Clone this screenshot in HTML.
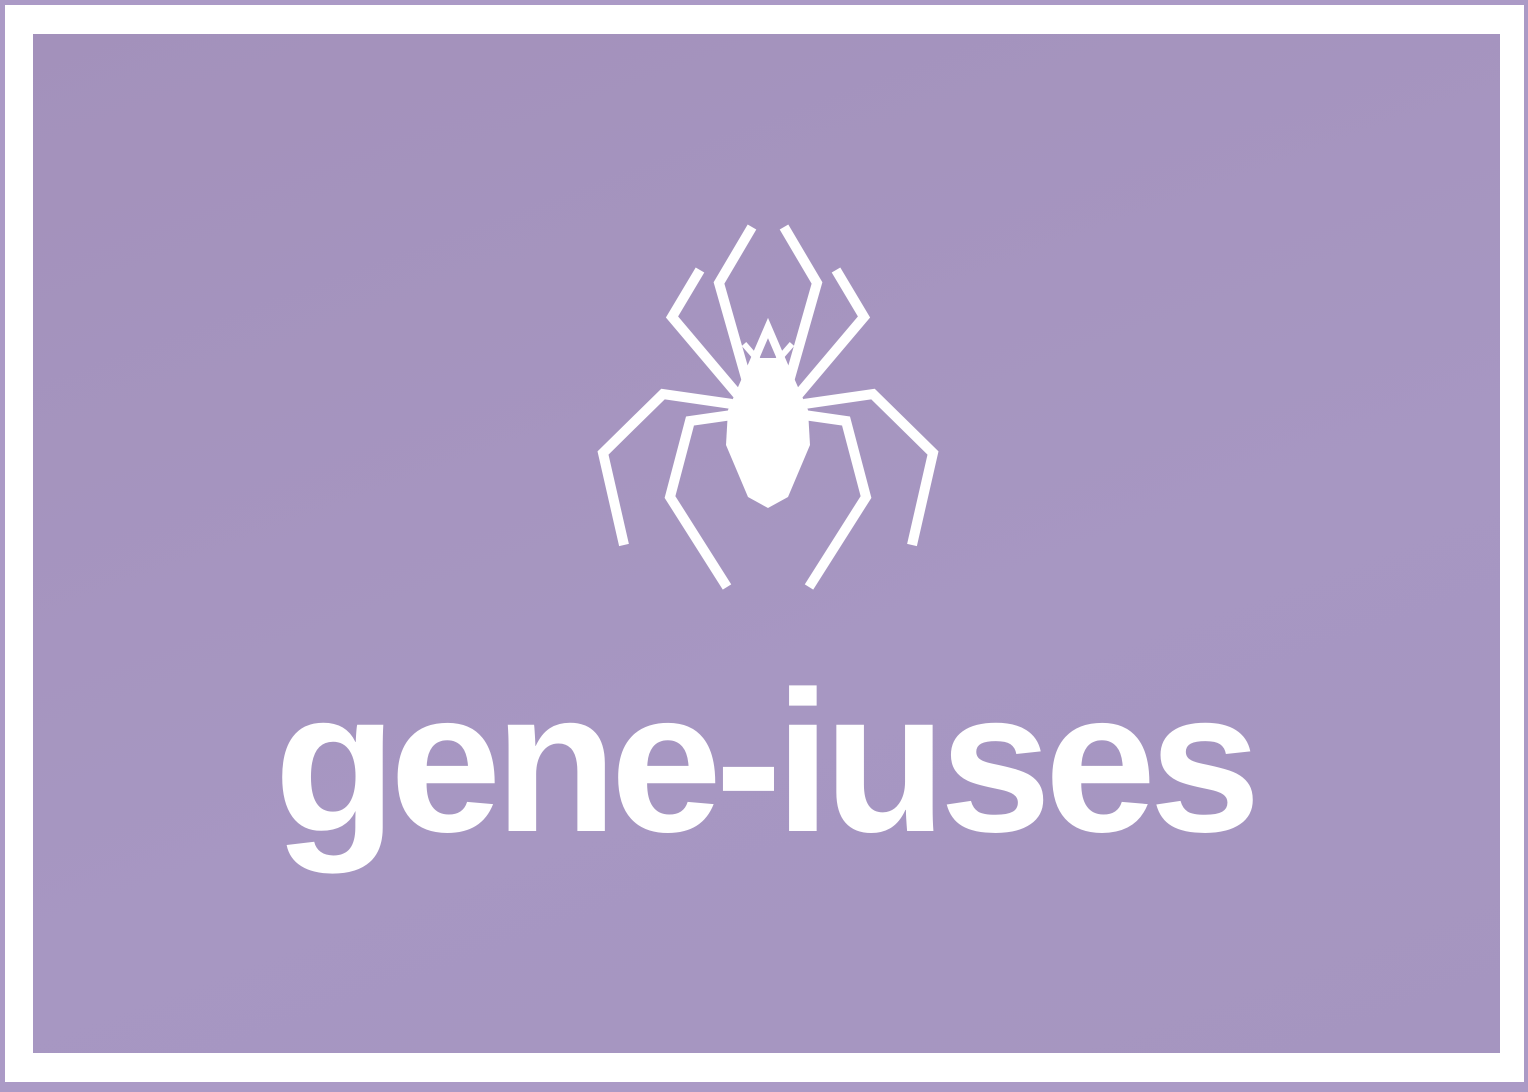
<!DOCTYPE html>
<html><head><meta charset="utf-8"><style>
html,body{margin:0;padding:0;}
body{width:1528px;height:1092px;background:#ab9ac6;position:relative;overflow:hidden;font-family:"Liberation Sans",Arial,sans-serif;}
#white{position:absolute;left:5px;top:5px;width:1519px;height:1077px;background:#fff;}
#panel{position:absolute;left:33px;top:34px;width:1467px;height:1019px;background:linear-gradient(160deg,#a391bb,#a797c2 60%,#a595c0);}
#word{position:absolute;left:0;width:1528px;top:642px;text-align:center;color:#fff;font-weight:bold;font-size:201px;letter-spacing:-7px;line-height:240px;}
</style></head><body>
<div id="white"></div>
<div id="panel"></div>
<svg width="1528" height="1092" style="position:absolute;left:0;top:0">
<g fill="none" stroke="#fff" stroke-width="10" stroke-linejoin="miter" stroke-linecap="butt">
<g id="legs">
<polyline points="748,385 719,283 752,227"/>
<polyline points="738,395 672,317 700,270"/>
<polyline points="732,404 663,394 603,453 624,545"/>
<polyline points="732,415 690,421 670,497 727,587"/>
</g>
<use href="#legs" transform="translate(1536,0) scale(-1,1)"/>
<polyline points="750,370 768,328 786,370" stroke-width="8"/>
<polyline points="744,344 758,360" stroke-width="6"/>
<polyline points="792,344 778,360" stroke-width="6"/>
</g>
<polygon fill="#fff" points="754,358 782,358 794,378 808,410 810,445 788,497 768,508 748,497 726,445 728,410 742,378"/>
</svg>
<div id="word">gene-iuses</div>
</body></html>
